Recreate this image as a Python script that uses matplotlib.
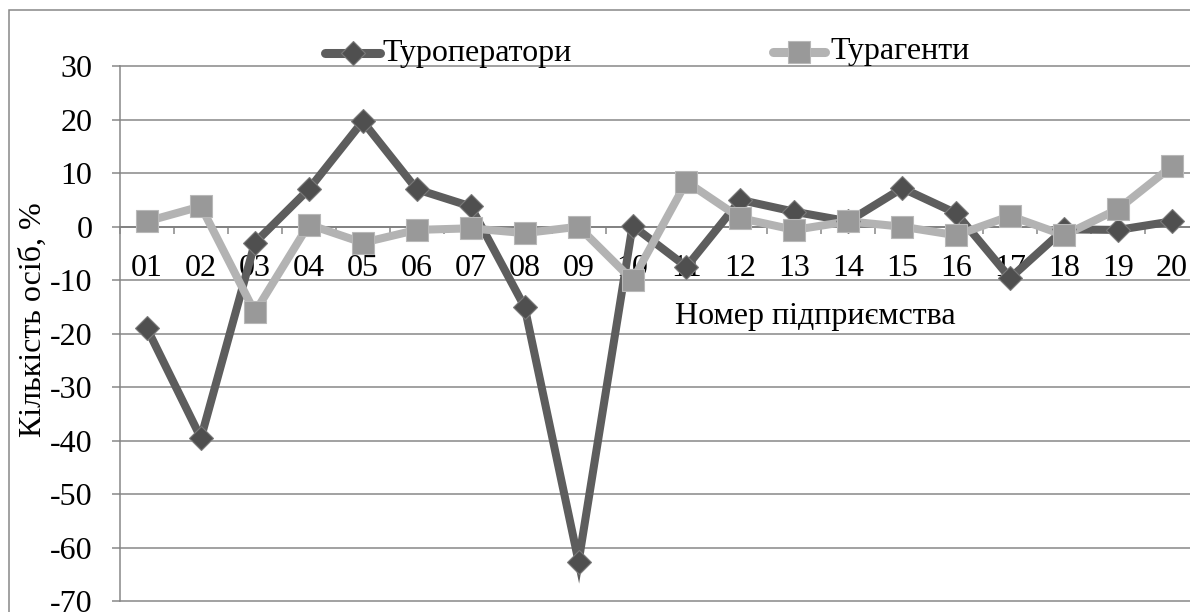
import matplotlib
matplotlib.use("Agg")
import matplotlib.pyplot as plt
from matplotlib.lines import Line2D
from matplotlib.patches import Rectangle

plt.rcParams['font.family'] = ['Liberation Serif', 'DejaVu Serif']

# Data
enterprises = ['01', '02', '03', '04', '05', '06', '07', '08', '09', '10',
               '11', '12', '13', '14', '15', '16', '17', '18', '19', '20']
tour_operators = [-19, -39.5, -3, 7, 19.7, 7, 3.8, -15, -62.6, 0.2,
                  -7.5, 5, 2.8, 1, 7.2, 2.5, -9.6, -0.5, -0.6, 1]
tour_agents = [1, 3.8, -16, 0.4, -3, -0.6, -0.3, -1.2, 0, -10,
               8.4, 1.6, -0.6, 1, 0, -1.6, 2, -1.6, 3.3, 11.3]
y_ticks = [30, 20, 10, 0, -10, -20, -30, -40, -50, -60, -70]

label_ops = 'Туроператори'
label_agents = 'Турагенти'
x_title = 'Номер підприємства'
y_title = 'Кількість осіб, %'

W, H = 1190, 612
fig = plt.figure(figsize=(W / 100, H / 100), dpi=100)

def fx(px):
    return px / W

def fy(py):
    return 1 - py / H

GRID = '#878787'
DARK_LINE = '#5d5d5d'
DARK_FILL = '#4f4f4f'
DARK_EDGE = '#7a7a7a'
LIGHT_LINE = '#b3b3b3'
LIGHT_FILL = '#999999'
LIGHT_EDGE = '#b8b8b8'
FS = 23

# Outer chart frame
fig.add_artist(Rectangle((fx(9), fy(640)), fx(1220) - fx(9), fy(10) - fy(640),
                         transform=fig.transFigure, fill=False,
                         edgecolor=GRID, linewidth=1.1))

left, right, top, bottom = 120, 1199, 66.2, 601.2
ax = fig.add_axes([fx(left), fy(bottom), fx(right) - fx(left), fy(top) - fy(bottom)])
ax.set_facecolor('none')

x = list(range(len(enterprises)))
ax.set_xlim(-0.5, len(enterprises) - 0.5)
ax.set_ylim(min(y_ticks), max(y_ticks))

# Horizontal gridlines
for v in y_ticks:
    ax.axhline(v, color=GRID, linewidth=1.1, zorder=1, clip_on=False)

# Axes styling
for s in ['top', 'right']:
    ax.spines[s].set_visible(False)
ax.spines['left'].set_color(GRID)
ax.spines['left'].set_linewidth(1.1)
ax.spines['bottom'].set_position(('data', 0))
ax.spines['bottom'].set_color('#808080')
ax.spines['bottom'].set_linewidth(1.3)

ax.set_yticks(y_ticks)
ax.set_yticklabels([str(v) for v in y_ticks], fontsize=FS)
ax.tick_params(axis='y', direction='out', length=5.8, width=1.1, color=GRID, pad=14)

ax.set_xticks(x)
ax.set_xticklabels(enterprises, fontsize=FS)
ax.set_xticks([i - 0.5 for i in range(len(enterprises) + 1)], minor=True)
ax.tick_params(axis='x', which='major', length=0, pad=20)
ax.tick_params(axis='x', which='minor', direction='out', length=5, width=1.1, color=GRID)

# Series lines
ax.plot(x, tour_operators, color=DARK_LINE, linewidth=5.8, zorder=3,
        solid_joinstyle='miter')
ax.plot(x, tour_agents, color=LIGHT_LINE, linewidth=5.8, zorder=3,
        solid_joinstyle='miter')
# Series markers
ax.plot(x, tour_operators, linestyle='none', marker='D', markersize=12.5,
        markerfacecolor=DARK_FILL, markeredgecolor=DARK_EDGE,
        markeredgewidth=0.8, zorder=4)
ax.plot(x, tour_agents, linestyle='none', marker='s', markersize=16.5,
        markerfacecolor=LIGHT_FILL, markeredgecolor=LIGHT_EDGE,
        markeredgewidth=0.8, zorder=4)

# Axis titles
fig.text(fx(33), fy(320), y_title, rotation=90, ha='center', va='center', fontsize=FS)
fig.text(fx(815), fy(316), x_title, ha='center', va='center', fontsize=FS)

# Legend
def legend_entry(x0, x1, yc, color, marker, ms, mfc, mec, text_x, text):
    fig.add_artist(Line2D([fx(x0), fx(x1)], [fy(yc), fy(yc)], transform=fig.transFigure,
                          color=color, linewidth=6.5, solid_capstyle='round'))
    fig.add_artist(Line2D([fx((x0 + x1) / 2)], [fy(yc)], transform=fig.transFigure,
                          linestyle='none', marker=marker, markersize=ms,
                          markerfacecolor=mfc, markeredgecolor=mec, markeredgewidth=0.8))
    fig.text(fx(text_x), fy(yc), text, ha='left', va='center', fontsize=FS)

legend_entry(325, 380, 53, DARK_LINE, 'D', 12, DARK_FILL, DARK_EDGE, 382, label_ops)
legend_entry(773, 825, 52, LIGHT_LINE, 's', 16.5, LIGHT_FILL, LIGHT_EDGE, 830, label_agents)

fig.savefig('out.png', dpi=100)
